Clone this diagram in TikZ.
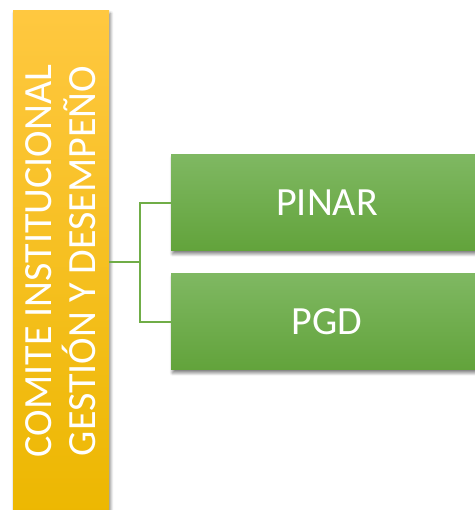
\documentclass[tikz,border=0pt]{standalone}
\usepackage{fontspec}
\setmainfont{Carlito}
\usetikzlibrary{shadows.blur}
\definecolor{ytop}{HTML}{FFC840}
\definecolor{ybot}{HTML}{ECB700}
\definecolor{gtop}{HTML}{7FB862}
\definecolor{gbot}{HTML}{62A33B}
\definecolor{conncol}{HTML}{70AD47}
\tikzset{
  shadowed/.style={blur shadow={shadow xshift=1.5pt, shadow yshift=-3pt, shadow blur steps=6, shadow opacity=50, shadow blur radius=3pt}},
  barbox/.style={rectangle, inner sep=0pt, top color=ytop, bottom color=ybot, shadowed, minimum width=96pt, minimum height=512pt},
  greenbox/.style={rectangle, inner sep=0pt, top color=gtop, bottom color=gbot, shadowed, minimum width=312pt, minimum height=96pt, text=white, font=\fontsize{40}{44}\selectfont},
  conn/.style={draw=conncol, line width=2.2pt}
}
\begin{document}
\begin{tikzpicture}[x=1pt,y=1pt]
\useasboundingbox (0,0) rectangle (474,510);
\node[barbox] (bar) at (61,510-266.5) {};
\node[rotate=90, align=center, text=white, font=\fontsize{40}{44}\selectfont, inner sep=0pt] (bartext) at (61,510-261) {COMITE INSTITUCIONAL\\GESTIÓN Y DESEMPEÑO};
\node[greenbox] (pinar) at (327,510-203) {PINAR};
\node[greenbox] (pgd) at (327,510-322) {PGD};
\coordinate (j) at (140,510-262);
\draw[conn] (bar.east |- j) -- (j);
\draw[conn] (pinar.west) -| (j) |- (pgd.west);
\end{tikzpicture}
\end{document}
